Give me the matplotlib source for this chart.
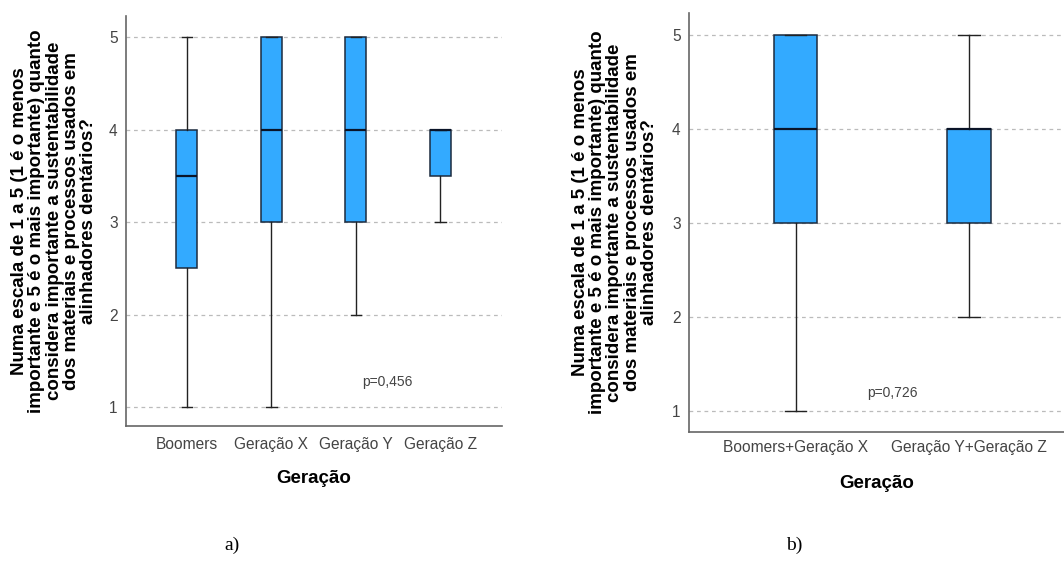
import matplotlib.pyplot as plt

plt.rcParams['font.family'] = ['Liberation Sans', 'DejaVu Sans']

# painel a)
cats_a = ['Boomers', 'Geração X', 'Geração Y', 'Geração Z']
q1_a = [2.5, 3, 3, 3.5]
med_a = [3.5, 4, 4, 4]
q3_a = [4, 5, 5, 4]
lo_a = [1, 1, 2, 3]
hi_a = [5, 5, 5, 4]
p_a = 'p=0,456'

# painel b)
cats_b = ['Boomers+Geração X', 'Geração Y+Geração Z']
q1_b = [3, 3]
med_b = [4, 4]
q3_b = [5, 4]
lo_b = [1, 2]
hi_b = [5, 5]
p_b = 'p=0,726'

ylab = ('Numa escala de 1 a 5 (1 é o menos\nimportante e 5 é o mais importante) quanto\n'
        'considera importante a sustentabilidade\ndos materiais e processos usados em\n'
        'alinhadores dentários?')

FILL = '#33aaff'
EDGE = '#1c2b3f'


def stats(cats, q1, med, q3, lo, hi):
    return [dict(label=c, q1=a, med=m, q3=b, whislo=l, whishi=h, fliers=[])
            for c, a, m, b, l, h in zip(cats, q1, med, q3, lo, hi)]


def panel(ax, st, xlim, ylim, ptxt, pxy, lblx, xlby, xpad):
    ax.bxp(st, positions=range(len(st)), widths=0.25, patch_artist=True,
           boxprops=dict(facecolor=FILL, edgecolor=EDGE, linewidth=1.1),
           medianprops=dict(color='#0a1428', linewidth=1.6),
           whiskerprops=dict(color='#222222', linewidth=1.0),
           capprops=dict(color='#222222', linewidth=1.0), capwidths=0.125,
           zorder=3)
    ax.set_xlim(*xlim)
    ax.set_ylim(*ylim)
    ax.set_yticks([1, 2, 3, 4, 5])
    ax.grid(axis='y', linestyle=(0, (3, 3)), color='#bbbbbb', linewidth=0.9, zorder=0)
    ax.tick_params(length=0, labelsize=11.2, labelcolor='#444444')
    ax.tick_params(axis='x', pad=xpad)
    ax.tick_params(axis='y', pad=6)
    for s in ['top', 'right']:
        ax.spines[s].set_visible(False)
    for s in ['left', 'bottom']:
        ax.spines[s].set_color('#666666')
        ax.spines[s].set_linewidth(1.2)
    ax.set_xlabel('Geração', fontsize=13.5, fontweight='bold')
    ax.xaxis.set_label_coords(0.5, xlby)
    ax.set_ylabel(ylab, fontsize=13.5, fontweight='bold', linespacing=1.02)
    ax.yaxis.set_label_coords(lblx, 0.5)
    ax.text(pxy[0], pxy[1], ptxt, fontsize=10, color='#444444', ha='center', va='center')


fig = plt.figure(figsize=(10.64, 5.68), dpi=100)
ax1 = fig.add_axes([0.1184, 0.25, 0.3534, 0.7218])
ax2 = fig.add_axes([0.6476, 0.2394, 0.3524, 0.7377])

panel(ax1, stats(cats_a, q1_a, med_a, q3_a, lo_a, hi_a), (-0.72, 3.73), (0.795, 5.227),
      p_a, (2.37, 1.27), -0.077, -0.107, 8)
panel(ax2, stats(cats_b, q1_b, med_b, q3_b, lo_b, hi_b), (-0.614, 1.547), (0.777, 5.234),
      p_b, (0.556, 1.19), -0.083, -0.103, 6)

fig.text(232 / 1064, 1 - 545 / 568, 'a)', family='Liberation Serif', fontsize=14, ha='center', va='center')
fig.text(794 / 1064, 1 - 545 / 568, 'b)', family='Liberation Serif', fontsize=14, ha='center', va='center')

fig.savefig('out.png', dpi=100)
